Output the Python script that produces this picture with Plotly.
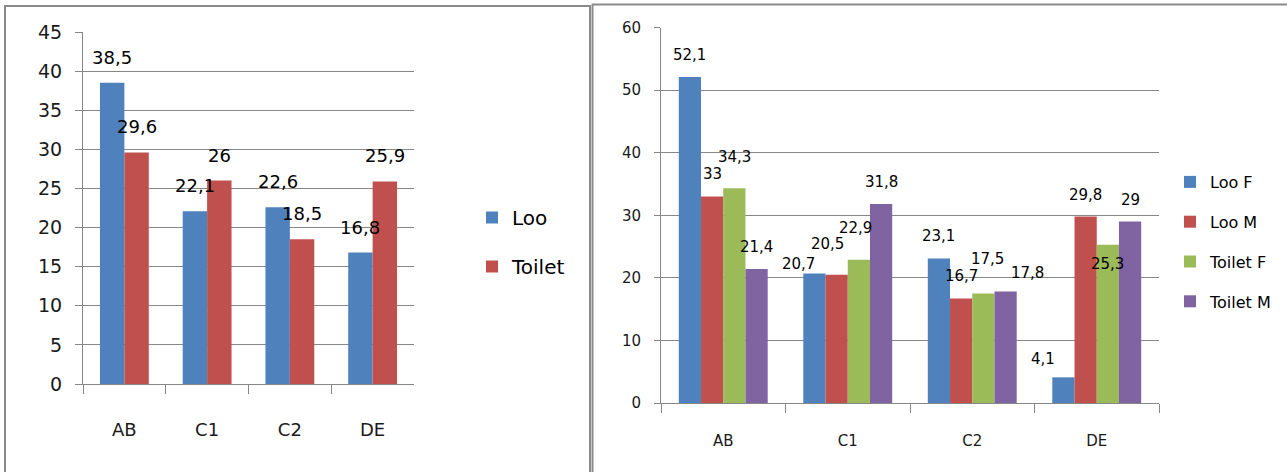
import plotly.graph_objects as go

# Survey results: share of respondents per group using each word
groups = ["AB", "C1", "C2", "DE"]

# Left chart: overall
loo = [38.5, 22.1, 22.6, 16.8]
toilet = [29.6, 26.0, 18.5, 25.9]

# Right chart: split by sex
loo_f = [52.1, 20.7, 23.1, 4.1]
loo_m = [33.0, 20.5, 16.7, 29.8]
toilet_f = [34.3, 22.9, 17.5, 25.3]
toilet_m = [21.4, 31.8, 17.8, 29.0]

left_ticks = [0, 5, 10, 15, 20, 25, 30, 35, 40, 45]
right_ticks = [0, 10, 20, 30, 40, 50, 60]

BLUE, RED, GREEN, PURPLE = "#4F81BD", "#C0504D", "#9BBB59", "#8064A2"
GRID = "#878787"
FONT = "DejaVu Sans"
W, H = 1287, 472

# hand-placed label nudges (pixels: right, down) for crowded bars
label_nudge = {
    ("Toilet F", "AB"): (0, -9),
    ("Loo F", "C1"): (-16, 13),
    ("Loo M", "C1"): (-9, -9),
    ("Toilet F", "C1"): (-3, -10),
    ("Toilet F", "C2"): (4, -12),
    ("Toilet M", "C2"): (22, 3),
    ("Loo F", "DE"): (-20, 4),
    ("Toilet F", "DE"): (0, 41),
}


def fmt(v):
    s = f"{v:.1f}".rstrip("0").rstrip(".")
    return s.replace(".", ",")


def px(x):
    return x / W


def py(y):
    return 1 - y / H


fig = go.Figure()
annotations = []

# ---- left chart ----
left_series = [("Loo", loo, BLUE), ("Toilet", toilet, RED)]
lw = 0.295
for k, (name, vals, col) in enumerate(left_series):
    off = -lw + k * lw
    fig.add_trace(go.Bar(
        x=groups, y=vals, name=name, marker=dict(color=col, line=dict(width=0)),
        width=lw, offset=off, xaxis="x", yaxis="y",
        legend="legend", legendgroup=name,
    ))
    for i, v in enumerate(vals):
        annotations.append(dict(
            x=i + off + lw / 2, y=v, xref="x", yref="y", text=fmt(v),
            showarrow=False, yanchor="bottom", yshift=13,
            font=dict(family=FONT, size=18, color="#000000"),
        ))

# ---- right chart ----
right_series = [("Loo F", loo_f, BLUE), ("Loo M", loo_m, RED),
                ("Toilet F", toilet_f, GREEN), ("Toilet M", toilet_m, PURPLE)]
rw = 0.1785
for k, (name, vals, col) in enumerate(right_series):
    off = -2 * rw + k * rw
    fig.add_trace(go.Bar(
        x=groups, y=vals, name=name, marker=dict(color=col, line=dict(width=0)),
        width=rw, offset=off, xaxis="x2", yaxis="y2",
        legend="legend2", legendgroup=name,
    ))
    for i, v in enumerate(vals):
        dx, dy = label_nudge.get((name, groups[i]), (0, 0))
        annotations.append(dict(
            x=i + off + rw / 2, y=v, xref="x2", yref="y2", text=fmt(v),
            showarrow=False, yanchor="bottom", yshift=11 - dy, xshift=dx,
            font=dict(family=FONT, size=15, color="#000000"),
        ))

axis_common = dict(
    showline=True, linecolor=GRID, linewidth=1,
    ticks="outside", tickcolor=GRID, zeroline=False,
    color="#1a1a1a", automargin=False,
)

fig.update_layout(
    width=W, height=H,
    margin=dict(l=0, r=0, t=0, b=0, pad=0, autoexpand=False),
    paper_bgcolor="white", plot_bgcolor="white",
    barmode="overlay",
    font=dict(family=FONT, color="#1a1a1a"),
    xaxis=dict(
        domain=[px(83), px(414)], anchor="y", type="category",
        categoryorder="array", categoryarray=groups,
        tickson="boundaries", ticklen=9, showgrid=False,
        tickfont=dict(size=18), ticklabelstandoff=29,
        range=[-0.5, 3.5], **axis_common,
    ),
    yaxis=dict(
        domain=[py(384), py(32)], anchor="x", range=[0, 45],
        tickvals=left_ticks, ticklen=7, showgrid=True, gridcolor=GRID,
        gridwidth=1, tickfont=dict(size=19), ticklabelstandoff=9,
        **axis_common,
    ),
    xaxis2=dict(
        domain=[px(661), px(1159)], anchor="y2", type="category",
        categoryorder="array", categoryarray=groups,
        tickson="boundaries", ticklen=9, showgrid=False,
        tickfont=dict(size=15), ticklabelstandoff=24,
        range=[-0.5, 3.5], **axis_common,
    ),
    yaxis2=dict(
        domain=[py(403), py(27.5)], anchor="x2", range=[0, 60],
        tickvals=right_ticks, ticklen=6, showgrid=True, gridcolor=GRID,
        gridwidth=1, tickfont=dict(size=15), ticklabelstandoff=10,
        **axis_common,
    ),
    legend=dict(
        x=px(472), y=py(198), xanchor="left", yanchor="top",
        font=dict(family=FONT, size=20, color="#000000"),
        tracegroupgap=20, traceorder="grouped", bgcolor="rgba(0,0,0,0)",
    ),
    legend2=dict(
        x=px(1170), y=py(165), xanchor="left", yanchor="top",
        font=dict(family=FONT, size=16, color="#000000"),
        tracegroupgap=16, traceorder="grouped", bgcolor="rgba(0,0,0,0)",
    ),
    annotations=annotations,
    shapes=[
        # frame around the left chart
        dict(type="rect", xref="paper", yref="paper",
             x0=px(5), x1=px(590), y0=py(480), y1=py(6),
             line=dict(color="#8a8a8a", width=2), fillcolor="rgba(0,0,0,0)"),
        # frame around the right chart
        dict(type="rect", xref="paper", yref="paper",
             x0=px(592.5), x1=px(1300), y0=py(480), y1=py(4.5),
             line=dict(color="#8a8a8a", width=2), fillcolor="rgba(0,0,0,0)"),
    ],
)

fig.write_html("out.html")
